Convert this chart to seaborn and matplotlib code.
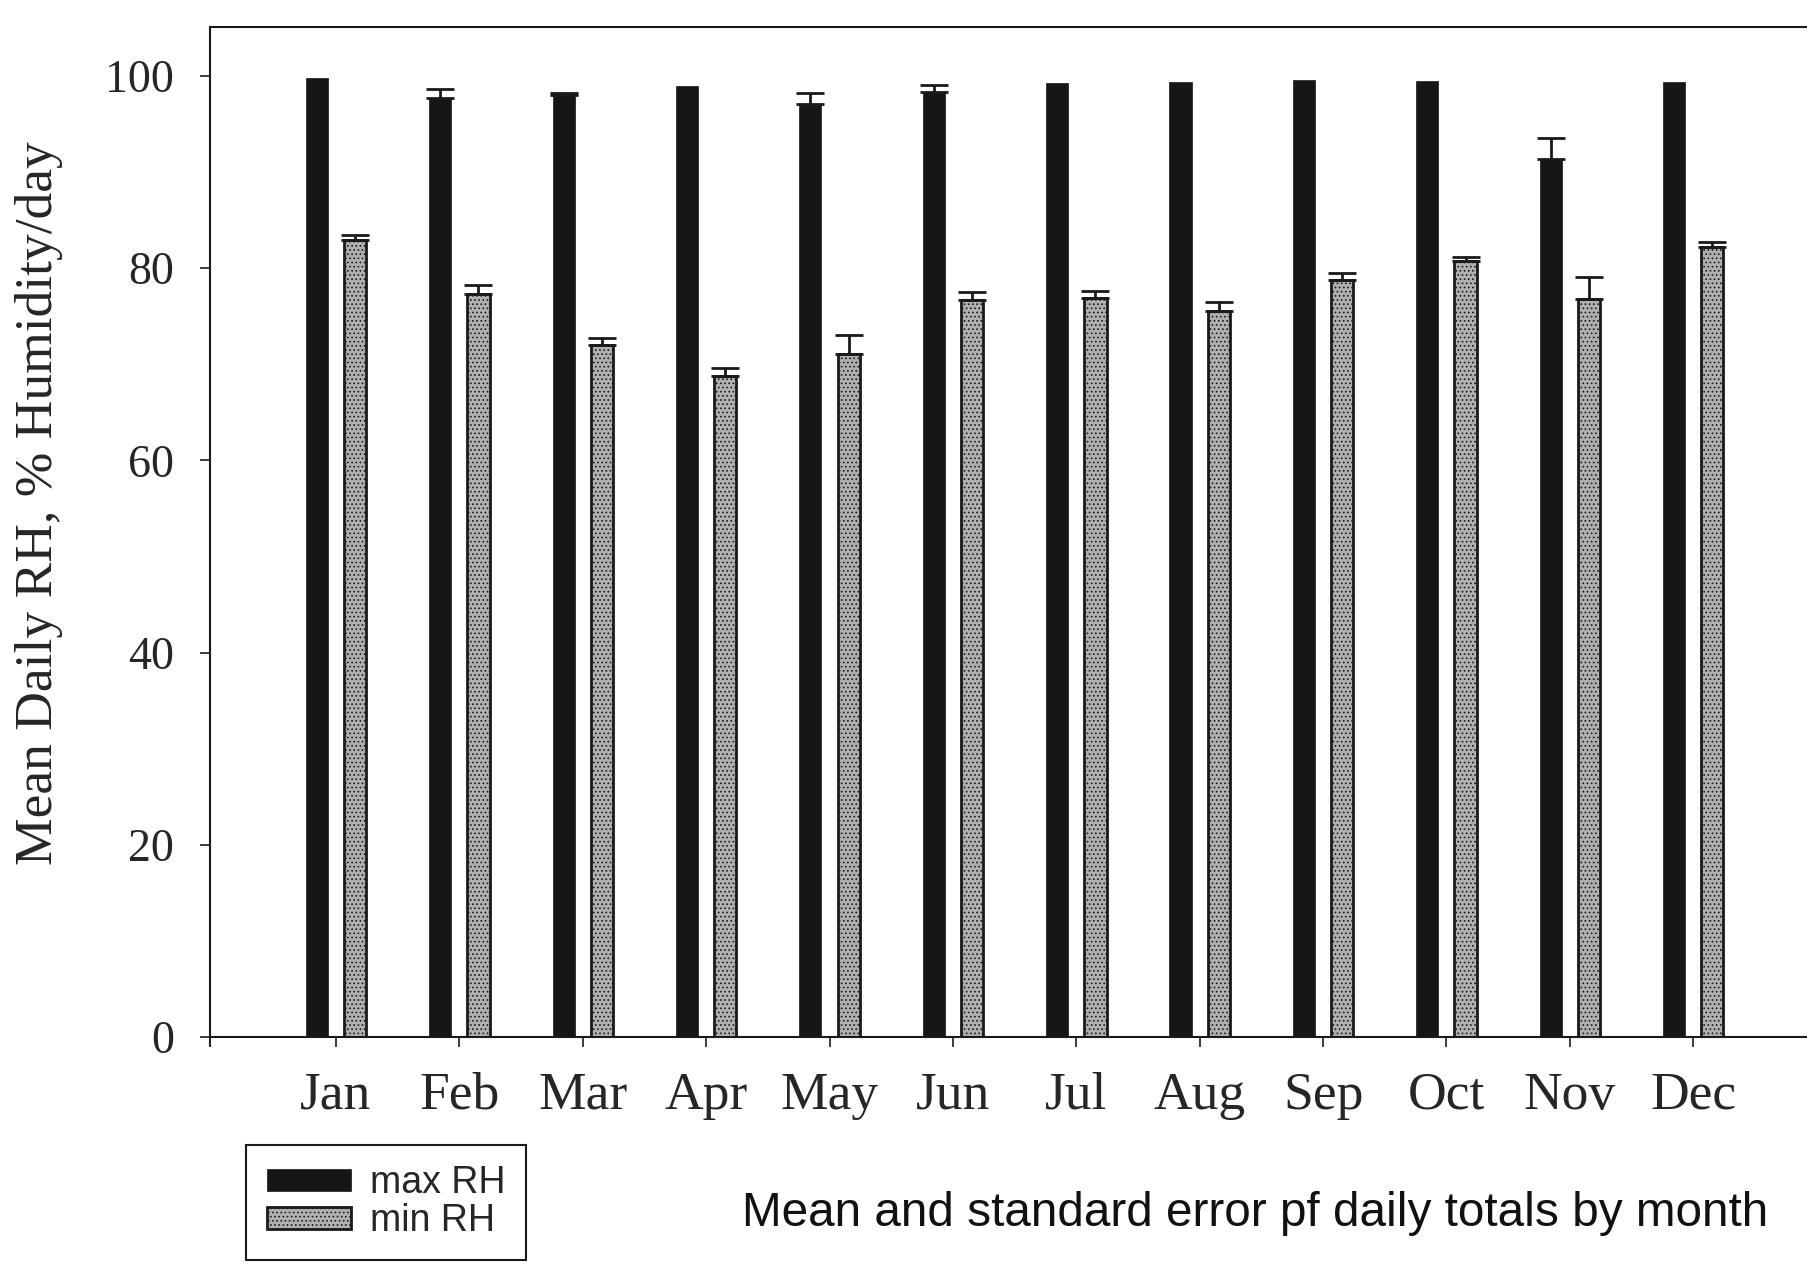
"""Monthly mean daily relative humidity (max and min) with standard error bars."""

import matplotlib.pyplot as plt
import numpy as np
import pandas as pd
import seaborn as sns

months = ["Jan", "Feb", "Mar", "Apr", "May", "Jun",
          "Jul", "Aug", "Sep", "Oct", "Nov", "Dec"]
max_rh = [99.8, 97.7, 98.0, 99.0, 97.1, 98.3, 99.3, 99.4, 99.6, 99.5, 91.4, 99.4]
max_se = [0.0, 0.95, 0.2, 0.0, 1.1, 0.8, 0.0, 0.0, 0.0, 0.0, 2.1, 0.0]
min_rh = [82.9, 77.3, 72.0, 68.8, 71.1, 76.7, 76.9, 75.5, 78.8, 80.7, 76.8, 82.2]
min_se = [0.6, 0.95, 0.7, 0.8, 1.9, 0.85, 0.7, 1.0, 0.7, 0.5, 2.3, 0.5]
y_ticks = [0, 20, 40, 60, 80, 100]


def main():
    sns.set_style("white")
    plt.rcParams["font.family"] = ["Liberation Serif", "DejaVu Serif"]
    plt.rcParams["hatch.linewidth"] = 0.7

    df = pd.DataFrame({
        "month": months * 2,
        "value": max_rh + min_rh,
        "kind": ["max RH"] * 12 + ["min RH"] * 12,
    })

    fig = plt.figure(figsize=(18.08, 12.65), dpi=100)
    ax = fig.add_axes([0.1162, 0.1802, 1 - 0.1162, 0.7985])

    sns.barplot(data=df, x="month", y="value", hue="kind", order=months,
                palette={"max RH": "#161616", "min RH": "#b0b0b0"},
                width=0.62, gap=0.42, errorbar=None, saturation=1,
                legend=False, ax=ax)

    # max bars: solid black, min bars: speckled grey with black outline
    for p in ax.containers[0]:
        p.set_edgecolor("#161616")
        p.set_linewidth(0.5)
    for p in ax.containers[1]:
        p.set_edgecolor("#1a1a1a")
        p.set_linewidth(2.0)
        p.set_hatch("....")

    # one-sided standard error bars
    for cont, errs in zip(ax.containers, [max_se, min_se]):
        xs = np.array([p.get_x() + p.get_width() / 2 for p in cont])
        ys = np.array([p.get_height() for p in cont])
        errs = np.array(errs)
        keep = errs > 0
        ax.errorbar(xs[keep], ys[keep], yerr=[np.zeros(keep.sum()), errs[keep]],
                    fmt="none", ecolor="#1a1a1a", elinewidth=2, capsize=10,
                    capthick=2, zorder=3)

    ax.set_xlim(-1.02, 11.93)
    ax.set_ylim(0, 105.1)
    ax.set_yticks(y_ticks)
    ax.set_xlabel("")
    ax.set_ylabel("Mean Daily RH, % Humidity/day", fontsize=38.5)
    ax.yaxis.set_label_coords(-0.092, 0.529)

    ax.tick_params(axis="y", direction="out", length=7, width=1.2,
                   pad=19, labelsize=33, left=True, color="#1a1a1a")
    ax.tick_params(axis="x", direction="out", length=7, width=1.2,
                   pad=18, labelsize=38.5, bottom=True, color="#1a1a1a")
    ax.set_xticks([-1.02], minor=True)
    ax.tick_params(axis="x", which="minor", direction="out", length=7,
                   width=1.5, bottom=True)

    for side in ["left", "bottom", "top"]:
        ax.spines[side].set_color("#1a1a1a")
        ax.spines[side].set_linewidth(1.5)
    ax.spines["right"].set_visible(False)

    handles = [ax.containers[0][0], ax.containers[1][0]]
    leg = ax.legend(handles=handles, labels=["max RH", "min RH"],
                    loc="upper left", bbox_to_anchor=(0.136, 0.095),
                    bbox_transform=fig.transFigure, borderaxespad=0,
                    prop={"family": "Liberation Sans", "size": 27},
                    handlelength=2.25, handleheight=0.55, handletextpad=0.5,
                    labelspacing=0.05, borderpad=0.55, fancybox=False,
                    framealpha=1, edgecolor="#1a1a1a")
    leg.get_frame().set_linewidth(1.5)

    fig.text(0.694, 0.041, "Mean and standard error pf daily totals by month",
             ha="center", va="center", fontsize=34.4, family="Liberation Sans",
             color="#111111")

    fig.savefig("out.png", dpi=100)
    plt.close(fig)


if __name__ == "__main__":
    main()
